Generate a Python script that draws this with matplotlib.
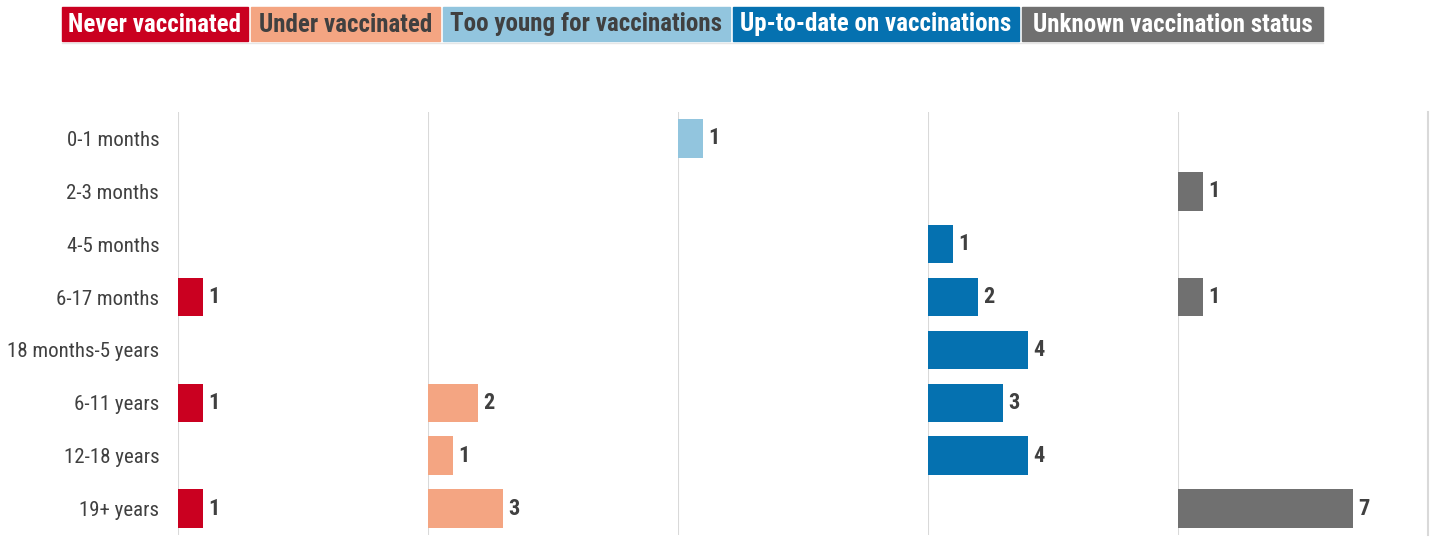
import matplotlib
matplotlib.use("Agg")
import matplotlib.pyplot as plt
from matplotlib import font_manager as fm

categories = ["0-1 months", "2-3 months", "4-5 months", "6-17 months",
              "18 months-5 years", "6-11 years", "12-18 years", "19+ years"]
series_names = ["Never vaccinated", "Under vaccinated", "Too young for vaccinations",
                "Up-to-date on vaccinations", "Unknown vaccination status"]
never_vaccinated = [None, None, None, 1, None, 1, None, 1]
under_vaccinated = [None, None, None, None, None, 2, 1, 3]
too_young = [1, None, None, None, None, None, None, None]
up_to_date = [None, None, 1, 2, 4, 3, 4, None]
unknown_status = [None, 1, None, 1, None, None, None, 7]
series_values = [never_vaccinated, under_vaccinated, too_young, up_to_date, unknown_status]
colors = ["#CA0020", "#F4A582", "#92C5DE", "#0571B0", "#707070"]
legend_text_colors = ["white", "#404040", "#404040", "white", "white"]

names = {f.name for f in fm.fontManager.ttflist}
cands = ["Roboto Condensed", "Liberation Sans Narrow", "Open Sans Condensed", "Roboto"]
fam = next(c for c in cands if c in names)
plt.rcParams["font.family"] = [fam, "DejaVu Sans"]

W, H = 1434, 540
fig = plt.figure(figsize=(W / 100, H / 100), dpi=100)
fig.patch.set_facecolor("white")

panel_left, panel_w = 178, 250
ax_top, ax_bot = 112, 535
text_col = "#404040"
grid_col = "#D9D9D9"

for i, (vals, col) in enumerate(zip(series_values, colors)):
    x0 = panel_left + i * panel_w
    ax = fig.add_axes([x0 / W, 1 - ax_bot / H, panel_w / W, (ax_bot - ax_top) / H])
    ax.set_xlim(0, 10)
    ax.set_ylim(len(categories) - 0.5, -0.5)
    for s in ax.spines.values():
        s.set_visible(False)
    ax.axvline(0, color=grid_col, lw=1.5, zorder=0)
    if i == len(series_values) - 1:
        ax.axvline(10, color=grid_col, lw=1.5, zorder=0, clip_on=False)
    ax.set_xticks([])
    if i == 0:
        ax.set_yticks(range(len(categories)))
        ax.set_yticklabels(categories, fontsize=15, color=text_col)
        ax.tick_params(axis="y", length=0, pad=13.5)
    else:
        ax.set_yticks([])
    for j, v in enumerate(vals):
        if v is None:
            continue
        ax.barh(j, v, height=0.73, color=col, edgecolor="none", zorder=2)
        ax.annotate(str(v), (v, j), xytext=(3.5, 0), textcoords="offset points",
                    va="center", ha="left", fontsize=16, fontweight="bold", color=text_col)
    ax.patch.set_alpha(0)

# legend boxes
legend_boxes = [(62, 248), (251, 440), (443, 730), (733, 1019), (1022, 1323)]
for (l, r), name, col, tcol in zip(legend_boxes, series_names, colors, legend_text_colors):
    fig.patches.append(plt.Rectangle((l / W, 1 - 41 / H), (r - l) / W, 34 / H,
                                     transform=fig.transFigure, color=col))
    fig.text((l + r) / 2 / W, 1 - 24.5 / H, name, ha="center", va="center",
             fontsize=18, fontweight="bold", color=tcol)
fig.add_artist(plt.Line2D([62 / W, 1323 / W], [1 - 42.5 / H] * 2, color="#E6E6E6", lw=1))

fig.savefig("out.png", dpi=100)
